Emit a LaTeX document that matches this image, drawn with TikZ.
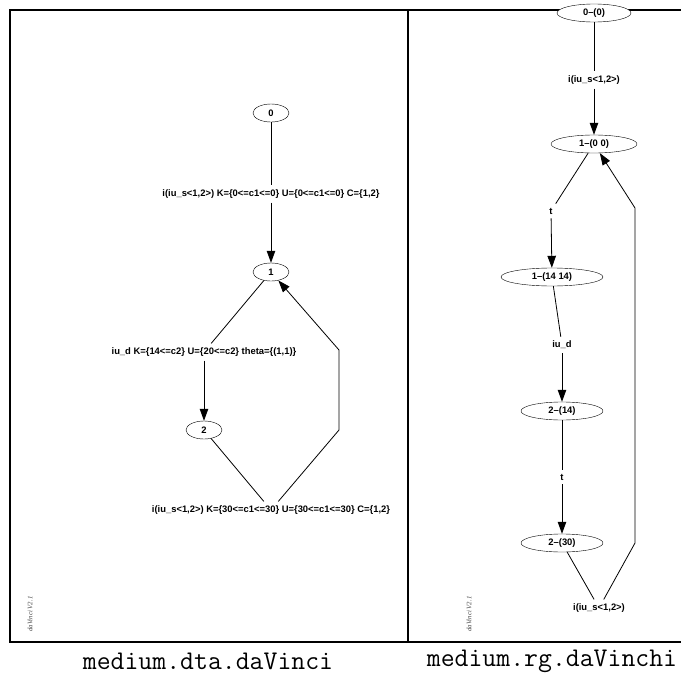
\documentclass[tikz,border=0pt]{standalone}
\usepackage{fontspec}
\newfontfamily\dvfont{Liberation Sans}
\newfontfamily\dvlogo{Liberation Serif}
\usetikzlibrary{arrows.meta}
\usetikzlibrary{shapes.geometric}
\tikzset{
  state/.style={draw, ellipse, fill=white, inner sep=0pt, minimum height=18pt,
                font=\dvfont\bfseries\fontsize{9.4}{11}\selectfont},
  elabel/.style={inner sep=4pt, font=\dvfont\bfseries\fontsize{9.4}{11}\selectfont},
  edge/.style={line width=0.8pt},
  arc/.style={edge, -{Triangle[length=12pt,width=8.5pt]}},
  logo/.style={rotate=90, black!75, font=\dvlogo\itshape\fontsize{6.8}{8}\selectfont},
  caption/.style={font=\ttfamily\fontsize{27}{30}\selectfont}
}
\begin{document}
\begin{tikzpicture}[x=1pt, y=-1pt]
            \useasboundingbox (0,0) rectangle (681,675);
            % Frames
            \draw[line width=2pt] (10,10) rectangle (408,642);
            \draw[line width=2pt] (681,10) -- (408,10) -- (408,642) -- (681,642);
            % dta graph
            \node[state, minimum width=36pt] (d0) at (271,113) {0};
            \node[state, minimum width=36pt] (d1) at (271,272) {1};
            \node[state, minimum width=36pt] (d2) at (204,430) {2};
            \node[elabel] (ld01) at (271,194) {i(iu\_s<1,2>) K=\{0<=c1<=0\} U=\{0<=c1<=0\} C=\{1,2\}};
            \node[elabel] (ld12) at (204,352) {iu\_d K=\{14<=c2\} U=\{20<=c2\} theta=\{(1,1)\}};
            \node[elabel] (ld21) at (271,510) {i(iu\_s<1,2>) K=\{30<=c1<=30\} U=\{30<=c1<=30\} C=\{1,2\}};
            \coordinate (db1) at (339,430);
            \coordinate (db2) at (339,350);
            \draw[edge] (d0) -- (ld01);
            \draw[arc]  (ld01) -- (d1);
            \draw[edge] (d1) -- (ld12);
            \draw[arc]  (ld12) -- (d2);
            \draw[edge] (d2) -- (ld21);
            \draw[arc]  (ld21) -- (db1) -- (db2) -- (d1);
            % rg graph
            \node[state, minimum width=74pt]  (r0) at (594,13)  {0–(0)};
            \node[state, minimum width=86pt]  (r1) at (594,144) {1–(0 0)};
            \node[state, minimum width=102pt] (r2) at (552,277) {1–(14 14)};
            \node[state, minimum width=82pt]  (r3) at (562,411) {2–(14)};
            \node[state, minimum width=82pt]  (r4) at (562,543) {2–(30)};
            \node[elabel] (lr0) at (594,80)  {i(iu\_s<1,2>)};
            \node[elabel] (lr1) at (551,211) {t};
            \node[elabel] (lr2) at (562,345) {iu\_d};
            \node[elabel] (lr3) at (562,477) {t};
            \node[elabel] (lr4) at (599,608) {i(iu\_s<1,2>)};
            \coordinate (rb1) at (635,543);
            \coordinate (rb2) at (635,208);
            \draw[edge] (r0) -- (lr0);
            \draw[arc]  (lr0) -- (r1);
            \draw[edge] (r1) -- (lr1);
            \draw[arc]  (lr1) -- (r2);
            \draw[edge] (r2) -- (lr2);
            \draw[arc]  (lr2) -- (r3);
            \draw[edge] (r3) -- (lr3);
            \draw[arc]  (lr3) -- (r4);
            \draw[edge] (r4) -- (lr4);
            \draw[arc]  (lr4) -- (rb1) -- (rb2) -- (r1);
            % Logos & captions
            \node[logo] (dlogo) at (30,614)  {daVinci V2.1};
            \node[logo] (rlogo) at (469,614) {daVinci V2.1};
            \node[caption] (dcap) at (208,661) {medium.dta.daVinci};
            \node[caption] (rcap) at (552,661) {medium.rg.daVinchi};
        \end{tikzpicture}
\end{document}
